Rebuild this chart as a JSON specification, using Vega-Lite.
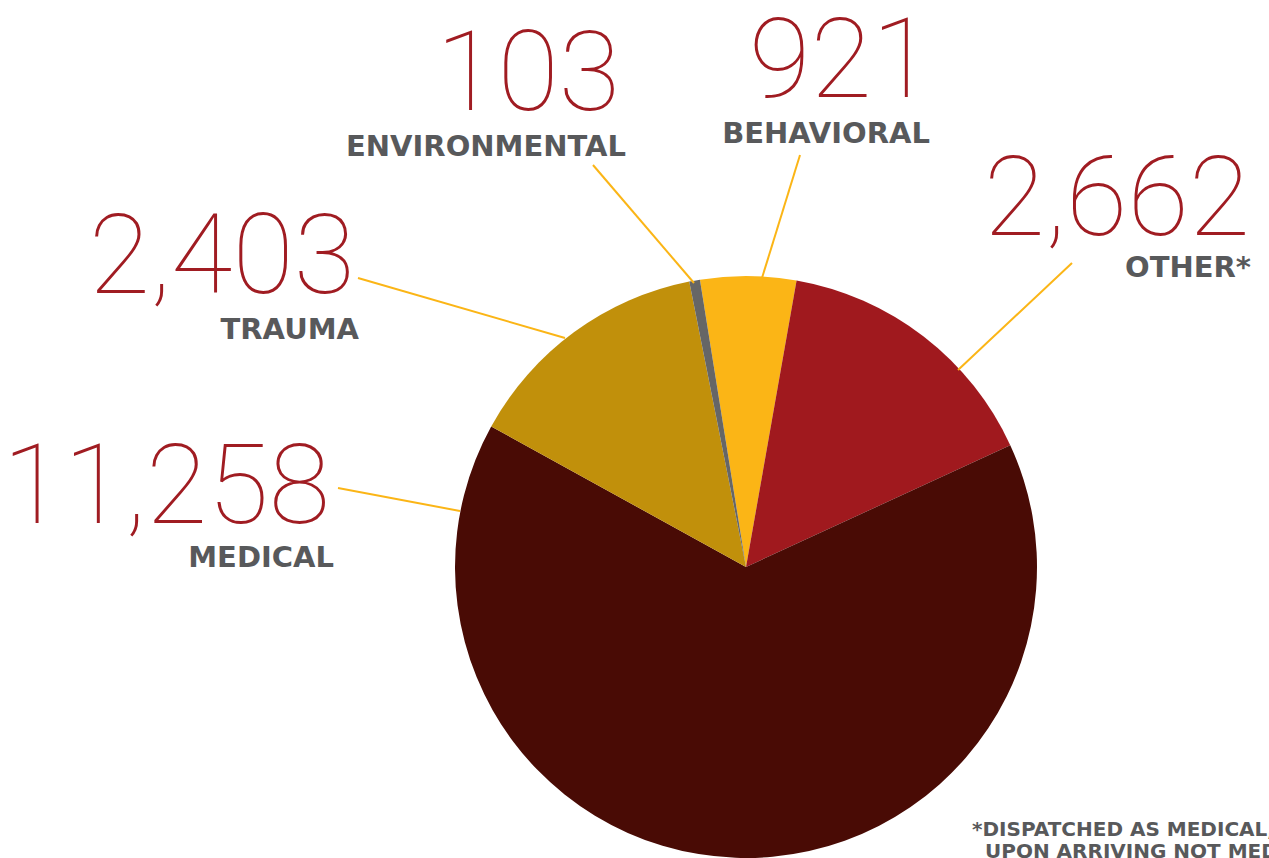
{
  "$schema": "https://vega.github.io/schema/vega-lite/v6.json",
  "width": 1269,
  "height": 858,
  "padding": 0,
  "autosize": {"type": "none"},
  "background": "white",
  "config": {"view": {"stroke": null}},
  "datasets": {
    "slices": [
      {"category": "Behavioral", "label": "BEHAVIORAL", "value": 921, "order": 1, "nx": 933, "ny": 97, "tx": 930, "ty": 143, "x1": 800, "y1": 155, "x2": 762, "y2": 278},
      {"category": "Other", "label": "OTHER*", "value": 2662, "order": 2, "nx": 1250, "ny": 235, "tx": 1251, "ty": 277, "x1": 1072, "y1": 263, "x2": 958, "y2": 370},
      {"category": "Medical", "label": "MEDICAL", "value": 11258, "order": 3, "nx": 330, "ny": 523, "tx": 334, "ty": 567, "x1": 338, "y1": 488, "x2": 460, "y2": 511},
      {"category": "Trauma", "label": "TRAUMA", "value": 2403, "order": 4, "nx": 355, "ny": 293, "tx": 359, "ty": 339, "x1": 358, "y1": 278, "x2": 565, "y2": 338},
      {"category": "Environmental", "label": "ENVIRONMENTAL", "value": 103, "order": 5, "nx": 620, "ny": 110, "tx": 626, "ty": 156, "x1": 593, "y1": 165, "x2": 694, "y2": 283}
    ],
    "notes": [
      {"line": "*DISPATCHED AS MEDICAL,", "fx": 972, "fy": 836},
      {"line": "UPON ARRIVING NOT MEDICAL", "fx": 985, "fy": 858}
    ]
  },
  "layer": [
    {
      "data": {"name": "slices"},
      "mark": {"type": "arc", "outerRadius": 291, "strokeWidth": 0},
      "encoding": {
        "x": {"datum": 746, "type": "quantitative", "scale": {"domain": [0, 1269], "nice": false, "zero": false}, "axis": null},
        "y": {"datum": 567, "type": "quantitative", "scale": {"domain": [0, 858], "nice": false, "zero": false, "reverse": true}, "axis": null},
        "theta": {"field": "value", "type": "quantitative", "stack": true, "scale": {"range": [-0.159, 6.1242]}},
        "order": {"field": "order", "type": "quantitative"},
        "color": {
          "field": "category", "type": "nominal", "legend": null,
          "scale": {
            "domain": ["Behavioral", "Other", "Medical", "Trauma", "Environmental"],
            "range": ["#fbb516", "#a0191e", "#490b05", "#c1900b", "#666666"]
          }
        }
      }
    },
    {
      "data": {"name": "slices"},
      "mark": {"type": "rule", "color": "#fbb516", "strokeWidth": 2},
      "encoding": {
        "x": {"field": "x1", "type": "quantitative"},
        "y": {"field": "y1", "type": "quantitative"},
        "x2": {"field": "x2"},
        "y2": {"field": "y2"}
      }
    },
    {
      "data": {"name": "slices"},
      "mark": {"type": "text", "align": "right", "baseline": "alphabetic", "font": "Roboto", "fontWeight": 100, "fontSize": 112, "color": "#a01c22"},
      "encoding": {
        "x": {"field": "nx", "type": "quantitative"},
        "y": {"field": "ny", "type": "quantitative"},
        "text": {"field": "value", "type": "quantitative", "format": ","}
      }
    },
    {
      "data": {"name": "slices"},
      "mark": {"type": "text", "align": "right", "baseline": "alphabetic", "font": "DejaVu Sans", "fontWeight": "bold", "fontSize": 29, "color": "#58595b"},
      "encoding": {
        "x": {"field": "tx", "type": "quantitative"},
        "y": {"field": "ty", "type": "quantitative"},
        "text": {"field": "label", "type": "nominal"}
      }
    },
    {
      "data": {"name": "notes"},
      "mark": {"type": "text", "align": "left", "baseline": "alphabetic", "font": "DejaVu Sans", "fontWeight": "bold", "fontSize": 20, "color": "#58595b"},
      "encoding": {
        "x": {"field": "fx", "type": "quantitative"},
        "y": {"field": "fy", "type": "quantitative"},
        "text": {"field": "line", "type": "nominal"}
      }
    }
  ]
}
